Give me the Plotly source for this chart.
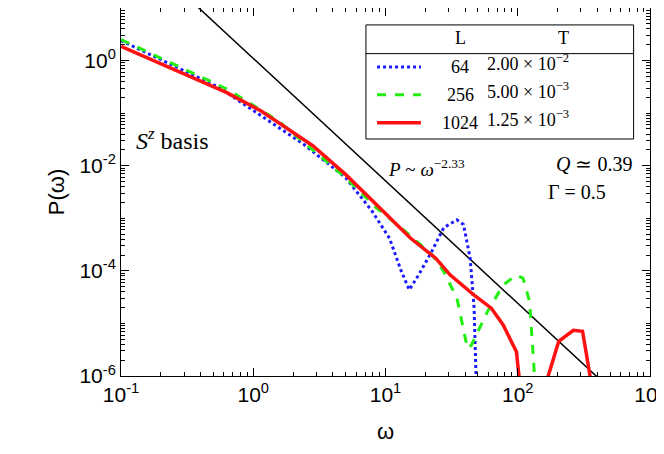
import numpy as np
import plotly.graph_objects as go

# log10 values
blue_lx = [-1.0, -0.26, 0.38, 0.70, 0.90, 1.03, 1.12, 1.18, 1.25, 1.35, 1.44, 1.54, 1.59, 1.64, 1.67, 1.69]
blue_ly = [0.38, -0.51, -1.59, -2.23, -2.87, -3.38, -4.01, -4.36, -4.08, -3.63, -3.18, -3.03, -3.12, -3.76, -4.71, -6.5]
green_lx = [-1.0, -0.58, -0.20, 0.19, 0.70, 0.93, 1.15, 1.35, 1.44, 1.54, 1.62, 1.65, 1.77, 1.89, 1.99, 2.04, 2.09, 2.14]
green_ly = [0.40, -0.10, -0.54, -1.15, -2.23, -2.80, -3.25, -3.69, -4.01, -4.52, -5.48, -5.41, -4.78, -4.27, -4.08, -4.14, -4.59, -6.5]
red_lx = [-1.0, -0.58, -0.20, 0.06, 0.45, 0.70, 0.93, 1.19, 1.38, 1.49, 1.67, 1.80, 1.89, 1.99, 2.03, 2.17, 2.31, 2.42, 2.49, 2.58]
red_ly = [0.27, -0.19, -0.61, -0.96, -1.62, -2.17, -2.74, -3.38, -3.76, -4.08, -4.46, -4.71, -5.03, -5.54, -6.5, -6.5, -5.34, -5.13, -5.15, -6.5]
fit_lx = [-1.0, 3.0]
fit_amp, fit_exp = 1.1, -2.33

L_vals = ["64", "256", "1024"]
T_vals = ["2.00 × 10<sup>−2</sup>", "5.00 × 10<sup>−3</sup>", "1.25 × 10<sup>−3</sup>"]

serif = "Liberation Serif"
sans = "Liberation Sans"

fig = go.Figure()
fx = 10 ** np.array(fit_lx)
fig.add_trace(go.Scatter(x=fx, y=fit_amp * fx ** fit_exp, mode="lines",
                         line=dict(color="black", width=1.5)))
series = [
    (blue_lx, blue_ly, dict(color="#1a1aff", width=3, dash="dot")),
    (green_lx, green_ly, dict(color="#22ee11", width=3, dash="dash")),
    (red_lx, red_ly, dict(color="#ff1111", width=3.5)),
]
for lx, ly, ln in series:
    fig.add_trace(go.Scatter(x=10 ** np.array(lx), y=10 ** np.array(ly),
                             mode="lines", line=ln))

ax = dict(type="log", showgrid=False, zeroline=False, showline=True, mirror="ticks",
          linecolor="black", linewidth=1, ticks="inside", ticklen=8, tickcolor="black",
          minor=dict(ticks="inside", ticklen=4, tickcolor="black", dtick="D1", showgrid=False),
          tickfont=dict(family=sans, size=21, color="black"))
fig.update_xaxes(**ax, range=[-1, 3], tickvals=[0.1, 1, 10, 100, 1000],
                 ticktext=["10<sup>-1</sup>", "10<sup>0</sup>", "10<sup>1</sup>", "10<sup>2</sup>", "10<sup>3</sup>"],
                 title=dict(text="ω", font=dict(family=sans, size=22, color="black"), standoff=18))
fig.update_yaxes(**ax, range=[-6, 1], tickvals=[1e-6, 1e-4, 1e-2, 1],
                 ticktext=["10<sup>-6</sup>", "10<sup>-4</sup>", "10<sup>-2</sup>", "10<sup>0</sup>"],
                 title=dict(text="P(ω)", font=dict(family=sans, size=22, color="black"), standoff=8))

# legend box
shapes = [
    dict(type="rect", xref="paper", yref="paper", x0=0.463, x1=0.969, y0=0.644, y1=0.954,
         line=dict(color="black", width=1), fillcolor="white", layer="above"),
    dict(type="line", xref="paper", yref="paper", x0=0.463, x1=0.969, y0=0.876, y1=0.876,
         line=dict(color="black", width=1), layer="above"),
]
row_y = [0.84, 0.764, 0.688]
for (lx, ly, ln), yy in zip(series, row_y):
    shapes.append(dict(type="line", xref="paper", yref="paper", x0=0.484, x1=0.567,
                       y0=yy, y1=yy, line=ln, layer="above"))
ann = [dict(text="L", x=0.641, y=0.918, yanchor="middle"),
       dict(text="T", x=0.85, y=0.918, yanchor="middle")]
for l, t, yy in zip(L_vals, T_vals, row_y):
    ann.append(dict(text=l, x=0.641, y=yy, yanchor="middle"))
    ann.append(dict(text=t, x=0.85, y=yy + 0.012, yanchor="middle"))
ann = [dict(a, xref="paper", yref="paper", showarrow=False,
            font=dict(family=serif, size=18, color="black")) for a in ann]
ann += [
    dict(text="<i>S</i><sup><i>z</i></sup> basis", x=0.025, y=0.645, xanchor="left",
         font=dict(family=serif, size=24, color="black")),
    dict(text="<i>P</i> ~ <i>ω</i><sup>−2.33</sup>", x=0.5, y=0.565, xanchor="left",
         font=dict(family=serif, size=19, color="black")),
    dict(text="<i>Q</i> ≃ 0.39", x=0.969, y=0.575, xanchor="right",
         font=dict(family=serif, size=20, color="black")),
    dict(text="Γ = 0.5", x=0.92, y=0.5, xanchor="right",
         font=dict(family=serif, size=20, color="black")),
]
for a in ann[-4:]:
    a.update(xref="paper", yref="paper", showarrow=False)

fig.update_layout(width=664, height=454, showlegend=False,
                  paper_bgcolor="white", plot_bgcolor="white",
                  margin=dict(l=113, r=22, t=0, b=86),
                  shapes=shapes, annotations=ann)

fig.write_html("out.html")
